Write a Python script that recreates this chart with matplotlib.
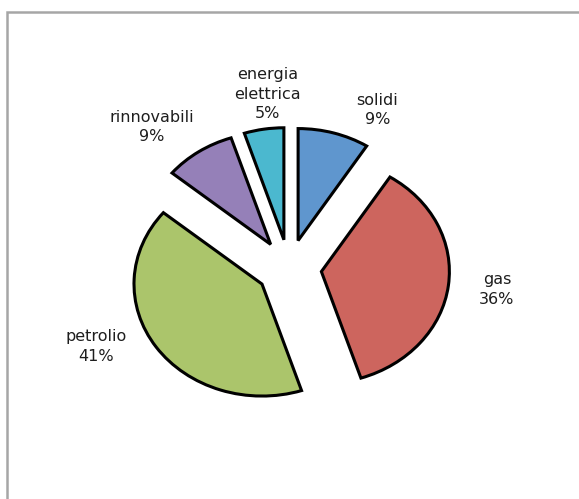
import matplotlib
matplotlib.use("Agg")
import matplotlib.pyplot as plt
from matplotlib.patches import Rectangle

# consumi per fonte (%)
labels = ["solidi", "gas", "petrolio", "rinnovabili", "energia\nelettrica"]
values = [9, 36, 41, 9, 5]
colors = ["#5F96CE", "#CD655E", "#ABC56B", "#9580B8", "#4BB8CF"]
# label centres (relative to pie centre, in radius units)
label_pos = [(0.69, 1.41), (1.625, -0.19), (-1.51, -0.70), (-1.07, 1.26), (-0.17, 1.55)]

W, H, DPI = 579, 499, 100
cx, cy = 289, 268        # pie centre in pixels
rx, ry = 128, 112        # the pie is a bit stretched horizontally

fig = plt.figure(figsize=(W / DPI, H / DPI), dpi=DPI)
ax = fig.add_axes([0, 0, 1, 1])

ax.pie(values, colors=colors, startangle=90, counterclock=False,
       explode=[0.255] * len(values), radius=1.0,
       wedgeprops=dict(edgecolor="black", linewidth=2.2),
       frame=True)
ax.set_aspect("auto")
ax.set_xlim(-cx / rx, (W - cx) / rx)
ax.set_ylim(-(H - cy) / ry, cy / ry)
ax.axis("off")

for lab, val, (x, y) in zip(labels, values, label_pos):
    ax.text(x, y, f"{lab}\n{val}%", ha="center", va="center",
            fontsize=11.5, family="DejaVu Sans", color="#1e1e1e", linespacing=1.38)

# chart-area border
fig.patches.append(Rectangle((7.5 / W, -0.1), 2, 1.1 - 12 / H,
                             transform=fig.transFigure, fill=False,
                             edgecolor="#A6A6A6", linewidth=1.8))

fig.savefig("out.png", dpi=DPI)
